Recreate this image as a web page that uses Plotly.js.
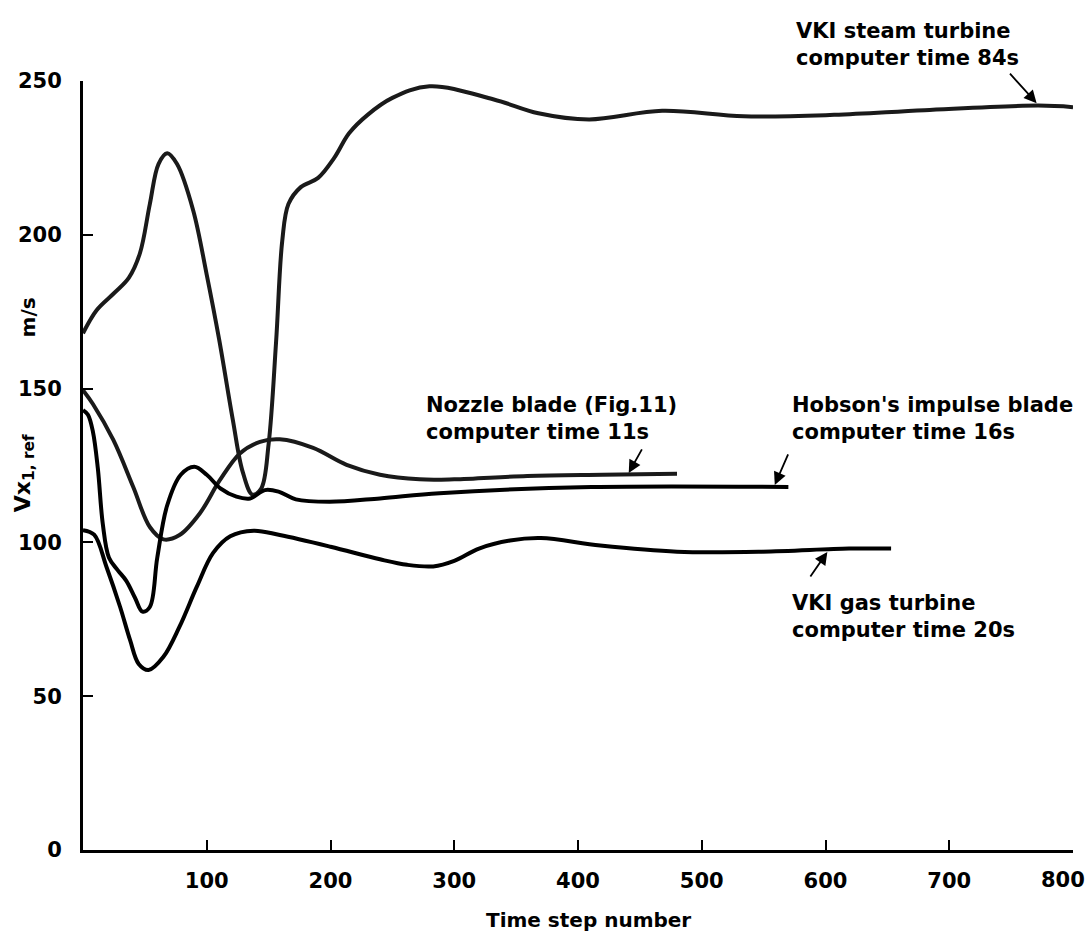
<!DOCTYPE html>
<html>
<head>
<meta charset="utf-8">
<script src="https://cdn.plot.ly/plotly-3.0.1.min.js"></script>
<style>html,body{margin:0;padding:0;background:#fff;}#chart{width:1089px;height:941px;}</style>
</head>
<body>
<div id="chart"></div>
<script>
// ---- data ----
const steamX = [0, 11, 25, 37, 46, 54, 61, 68, 76, 89, 100, 110, 121, 129, 137, 144, 150, 156, 161, 166, 176, 190, 203, 215, 230, 250, 280, 332, 368, 409, 468, 534, 607, 680, 772, 800];
const steamY = [168, 175.5, 181, 186, 194, 210, 223, 226.5, 223, 208, 187, 166, 140, 123, 115.5, 117.5, 132, 165, 198, 210, 215.5, 218.5, 225, 233, 239, 244.5, 248.3, 244, 239.5, 237.5, 240.3, 238.5, 239, 240.5, 242, 241.5];

const nozzleX = [0, 8, 24.5, 40.6, 54, 65, 78, 94.5, 110.7, 127, 143, 159, 186, 213, 240, 272, 300, 359, 420, 480];
const nozzleY = [149.5, 145, 133.3, 118, 105, 101, 102.4, 109.5, 120.3, 129, 132.7, 133.5, 130.7, 125.2, 122, 120.5, 120.5, 121.6, 122, 122.3];

const hobsonX = [0, 4, 8, 12, 16, 21, 28, 35, 42, 48, 54, 60, 68, 79, 90, 100, 111, 124, 135, 147, 158, 172, 199, 240, 288, 411, 570];
const hobsonY = [143, 141.5, 136, 124, 106, 95, 91, 87.5, 82, 77.5, 79, 95, 112, 122, 124.6, 122, 117.6, 114.9, 114.3, 117, 116.5, 114, 113.2, 114.3, 116, 118, 118];

const gasX = [0, 9, 19, 30, 38, 45, 53, 65, 78, 92, 105, 119, 138, 159, 200, 240, 262, 283, 300, 320, 345, 370, 418, 480, 549, 619, 653];
const gasY = [104, 102.5, 92, 79, 68.3, 60.5, 58.5, 62.8, 72.6, 85.6, 96.5, 102, 103.8, 102.4, 98.6, 94.5, 92.7, 92.2, 94, 98, 100.6, 101.4, 99, 97, 97, 98, 98];

const xTicks = [100, 200, 300, 400, 500, 600, 700];
const lastXTick = 800;
const yTicks = [0, 50, 100, 150, 200, 250];

const labels = {
  steam: "VKI steam turbine<br>computer time 84s",
  nozzle: "Nozzle blade (Fig.11)<br>computer time 11s",
  hobson: "Hobson's impulse blade<br>computer time 16s",
  gas: "VKI gas turbine<br>computer time 20s"
};
// arrow tips on the curves (data coords)
const arrowTipX = [770.6, 441, 559, 601.5];
const arrowTipY = [242.8, 122.6, 118.7, 96.9];

// ---- styling ----
const FONT = "DejaVu Sans, Liberation Sans, sans-serif";
function line(x, y, color) {
  return {x: x, y: y, type: "scatter", mode: "lines",
    line: {color: color, width: 4, shape: "spline", smoothing: 1},
    hoverinfo: "skip", showlegend: false, cliponaxis: false};
}
const traces = [
  line(steamX, steamY, "#1a1a1a"),
  line(nozzleX, nozzleY, "#1a1a1a"),
  line(hobsonX, hobsonY, "#000"),
  line(gasX, gasY, "#000")
];

const txt = (text, x, y, size, extra) => Object.assign({
  text: text, xref: "paper", yref: "paper", x: x, y: y,
  xanchor: "left", yanchor: "middle", align: "left", showarrow: false,
  font: {family: FONT, size: size, color: "#000", weight: "bold"}
}, extra || {});

const arrowOffsets = [[-28, -31], [14, -25], [14, -32], [-18, 26]];
const arrows = arrowTipX.map((ax, i) => ({
  x: ax, y: arrowTipY[i], xref: "x", yref: "y", text: "",
  showarrow: true, arrowhead: 2, arrowsize: 1.4, arrowwidth: 1.8,
  arrowcolor: "#000", ax: arrowOffsets[i][0], ay: arrowOffsets[i][1]
}));

const layout = {
  width: 1089, height: 941,
  margin: {l: 83, r: 16, t: 81, b: 91},
  paper_bgcolor: "#fff", plot_bgcolor: "#fff",
  xaxis: {range: [0, 800], tickvals: xTicks, ticktext: xTicks.map(String),
    showline: true, linecolor: "#000", linewidth: 3, ticks: "inside",
    ticklen: 10, tickwidth: 2, tickcolor: "#000", showgrid: false, zeroline: false,
    ticklabelstandoff: 10,
    minor: {tickvals: [lastXTick], ticks: "inside", ticklen: 10, tickwidth: 2, tickcolor: "#000", showgrid: false},
    tickfont: {family: FONT, size: 21, color: "#000", weight: "bold"}},
  yaxis: {range: [0, 250], tickvals: yTicks, ticktext: yTicks.map(String),
    showline: true, linecolor: "#000", linewidth: 3, ticks: "inside",
    ticklen: 10, tickwidth: 2, tickcolor: "#000", showgrid: false, zeroline: false,
    ticklabelstandoff: 14,
    tickfont: {family: FONT, size: 21, color: "#000", weight: "bold"}},
  annotations: [
    txt(labels.steam, 0.718, 1.048, 21),
    txt(labels.nozzle, 0.344, 0.5605, 21),
    txt(labels.hobson, 0.714, 0.5605, 21),
    txt(labels.gas, 0.714, 0.303, 21),
    txt(String(lastXTick), 1.0143, -0.0395, 21, {xanchor: "right"}),
    txt("Time step number", 0.511, -0.091, 20, {xanchor: "center"}),
    txt("Vx<sub>1, ref</sub>", -0.0596, 0.49, 22, {xanchor: "center", textangle: -90}),
    txt("m/s", -0.056, 0.692, 20, {xanchor: "center", textangle: -90})
  ].concat(arrows)
};

Plotly.newPlot("chart", traces, layout, {staticPlot: true, displayModeBar: false});
</script>
</body>
</html>
